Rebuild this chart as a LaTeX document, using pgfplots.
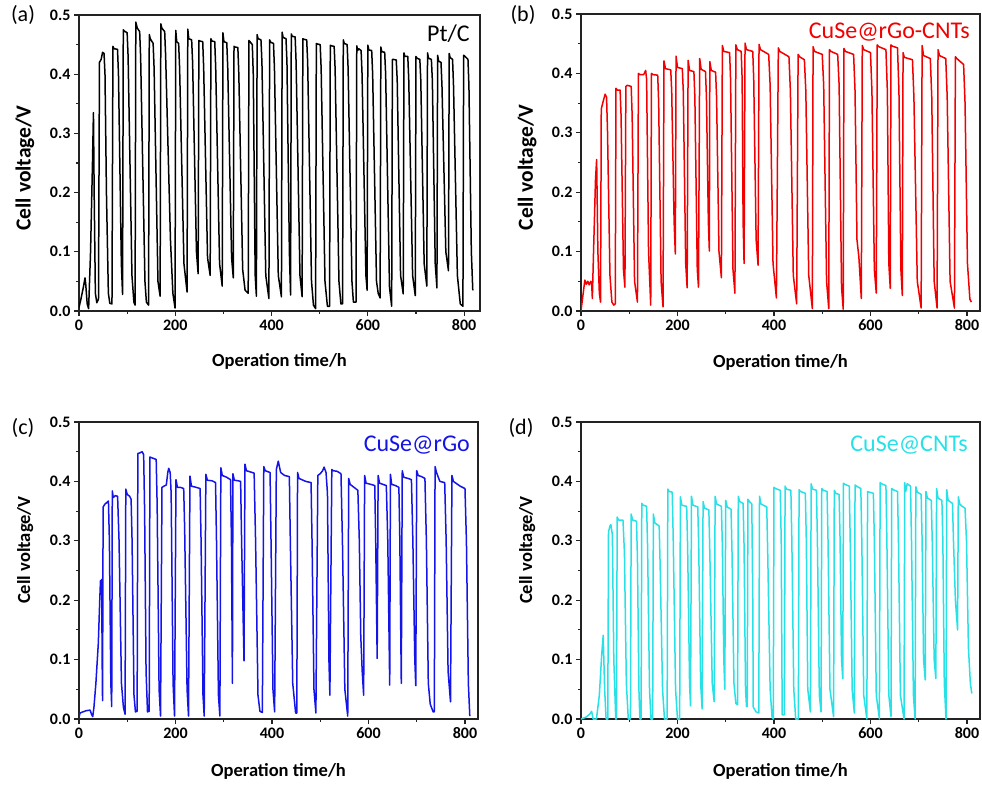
\documentclass[border=0pt]{standalone}
\usepackage{fontspec}
\setmainfont{Carlito}
\usepackage{pgfplots}
\pgfplotsset{compat=1.18}

\definecolor{cred}{RGB}{240,0,0}
\definecolor{cblue}{RGB}{20,20,230}
\definecolor{ccyan}{RGB}{40,225,230}
\definecolor{axgray}{RGB}{35,35,35}

\pgfplotsset{
  panel/.style={
    scale only axis, anchor=south west,
    xmin=0, xmax=827, ymin=0, ymax=0.5,
    xtick={0,200,400,600,800}, minor x tick num=1,
    ytick={0,0.1,0.2,0.3,0.4,0.5}, minor y tick num=1,
    tick pos=left, tick align=outside,
    major tick length=5pt, minor tick length=3pt,
    axis line style={line width=1.4pt, axgray},
    every tick/.style={line width=1.1pt, axgray},
    ticklabel style={font=\fontsize{16}{16}\selectfont\bfseries},
    /pgf/number format/assume math mode=true,
    y tick label style={/pgf/number format/fixed, /pgf/number format/fixed zerofill,
                        /pgf/number format/precision=1},
    xlabel={Operation time/h}, ylabel={Cell voltage/V},
    every axis y label/.style={rotate=90, anchor=center},
    every axis x label/.style={anchor=center, font=\fontsize{18.5}{18.5}\selectfont\bfseries},
  },
  toprow/.style={
    every axis y label/.append style={at={(axis description cs:-0.135,0.483)},
      font=\fontsize{21.5}{21.5}\selectfont\bfseries},
    every axis x label/.append style={at={(axis description cs:0.5,-0.172)}},
  },
  botrow/.style={
    every axis y label/.append style={at={(axis description cs:-0.135,0.569)},
      font=\fontsize{18.5}{18.5}\selectfont\bfseries},
    every axis x label/.append style={at={(axis description cs:0.5,-0.178)}},
  },
  curve/.style={line width=1.5pt, line join=round},
}
\tikzset{sample/.style={anchor=north east, inner sep=0pt, font=\fontsize{24}{24}\selectfont}}

\begin{document}
\begin{tikzpicture}
\path[use as bounding box] (0pt,0pt) rectangle (982pt,785pt);

% (a) Pt/C
\begin{axis}[panel, toprow, at={(79pt,474pt)}, width=401pt, height=296pt, xmax=833]
\addplot[curve, black] coordinates {
(0,0.006)(4,0.02)(9,0.04)(12.5,0.056)(14,0.045)(17,0.012)(20,0.004)(24,0.1)(28,0.25)(30,0.335)(31.5,0.2)(34,0.03)(37,0.014)(40.5,0.02)
(42.5,0.42)(46,0.425)(49,0.437)(52,0.435)(54,0.40)(57,0.2)(61,0.03)(64,0.013)(68.5,0.012)
(70.5,0.447)(73,0.443)(80,0.442)(82,0.40)(88,0.08)(90.5,0.028)
(92,0.475)(94,0.473)(100,0.47)(102,0.43)(110,0.06)(114,0.015)(116.5,0.010)
(118,0.488)(121,0.478)(126,0.472)(128,0.43)(137,0.05)(140,0.015)(144.5,0.010)
(146,0.467)(148,0.46)(154,0.452)(156,0.41)(164,0.05)(168.5,0.025)
(170,0.485)(172,0.478)(178,0.472)(180,0.43)(190,0.12)(195,0.03)(199.5,0.005)
(201,0.474)(203,0.455)(207,0.452)(209,0.41)(218,0.08)(224.5,0.032)
(226,0.476)(228,0.46)(234,0.458)(236,0.42)(244,0.1)(247.5,0.063)
(249,0.457)(251,0.456)(257,0.455)(259,0.41)(267,0.09)(272.5,0.06)
(274,0.46)(276,0.456)(282,0.455)(284,0.41)(292,0.08)(297.5,0.042)
(299,0.47)(301,0.455)(307,0.453)(309,0.41)(317,0.09)(320.5,0.056)
(322,0.447)(324,0.446)(330,0.445)(332,0.40)(340,0.07)(345,0.035)(351.5,0.03)
(353,0.457)(355,0.455)(360,0.45)(362,0.40)(366,0.06)(368.5,0.025)
(370,0.467)(372,0.46)(378,0.458)(380,0.42)(388,0.06)(394.5,0.021)
(396,0.458)(398,0.454)(404,0.452)(406,0.41)(414,0.06)(420.5,0.024)
(422,0.471)(424,0.462)(430,0.46)(432,0.42)(437,0.1)(439.5,0.027)
(441,0.468)(443,0.464)(449,0.463)(451,0.42)(459,0.06)(463.5,0.024)
(465,0.46)(467,0.459)(473,0.458)(475,0.42)(483,0.05)(487,0.01)(491.5,0.004)
(493,0.452)(495,0.451)(501,0.45)(503,0.41)(511,0.05)(516,0.008)(520.5,0.008)
(522,0.449)(524,0.448)(530,0.447)(532,0.41)(540,0.05)(544,0.012)(547.5,0.012)
(549,0.458)(551,0.452)(557,0.45)(559,0.41)(567,0.05)(570,0.015)(575.5,0.015)
(577,0.448)(579,0.44)(581,0.443)(586,0.44)(588,0.40)(596,0.06)(598.5,0.035)
(600,0.449)(602,0.441)(608,0.44)(610,0.40)(618,0.05)(621.5,0.03)(625.5,0.022)
(627,0.446)(629,0.438)(635,0.437)(637,0.40)(645,0.04)(649.5,0.008)
(651,0.425)(653,0.425)(659,0.424)(661,0.39)(668,0.06)(673.5,0.029)
(675,0.436)(677,0.43)(683,0.43)(685,0.39)(693,0.06)(698.5,0.026)
(700,0.43)(702,0.427)(708,0.425)(710,0.39)(717,0.08)(722.5,0.042)
(724,0.436)(726,0.427)(732,0.425)(734,0.39)(740,0.08)(743.5,0.039)
(745,0.432)(747,0.422)(752,0.42)(754,0.38)(762,0.1)(767.5,0.068)
(769,0.435)(771,0.428)(776,0.425)(778,0.38)(786,0.06)(792,0.012)(797.5,0.008)
(799,0.432)(802,0.43)(808,0.425)(810,0.38)(815,0.1)(818,0.035)
};
\node[sample, text=black] at (axis description cs:0.975,0.966) {Pt/C};
\end{axis}

% (b) CuSe@rGo-CNTs
\begin{axis}[panel, toprow, at={(581pt,474pt)}, width=399pt, height=297pt]
\addplot[curve, cred] coordinates {
(0,0.0)(3,0.02)(8,0.052)(11,0.045)(14,0.05)(17,0.044)(20,0.05)(22,0.048)(23.5,0.021)(26,0.1)(30,0.22)(32.4,0.255)(35,0.1)(38,0.03)(40.5,0.015)
(42,0.34)(45,0.35)(50,0.365)(53,0.36)(55,0.3)(60,0.06)(64,0.015)(68,0.01)(71,0.012)
(72.5,0.375)(75,0.372)(81,0.372)(83,0.33)(88,0.07)(91,0.04)
(93,0.378)(96,0.38)(104,0.378)(106,0.33)(111,0.05)(117,0.015)
(119,0.4)(122,0.398)(130,0.398)(134,0.405)(136,0.39)(140,0.1)(144.5,0.01)
(146,0.4)(149,0.398)(159,0.397)(161,0.35)(166,0.05)(170,0.007)
(172,0.421)(175,0.408)(186,0.406)(188,0.37)(193,0.15)(195.5,0.096)
(197,0.429)(200,0.41)(210,0.408)(212,0.37)(217,0.08)(220,0.039)
(222,0.422)(225,0.405)(234,0.403)(236,0.36)(241,0.07)(243.5,0.04)
(246,0.425)(249,0.407)(258,0.403)(260,0.36)(264,0.15)(266,0.101)
(267,0.42)(270,0.405)(279,0.402)(281,0.36)(286,0.1)(291,0.056)
(293,0.447)(296,0.437)(308,0.435)(310,0.39)(315,0.07)(319,0.03)
(321,0.448)(324,0.44)(332,0.437)(334,0.39)(336,0.15)(338,0.08)
(340,0.451)(343,0.44)(356,0.437)(358,0.39)(363,0.12)(367,0.077)
(369,0.449)(372,0.44)(389,0.432)(392,0.38)(398,0.08)(405,0.022)
(409,0.443)(412,0.437)(431,0.428)(434,0.37)(440,0.06)(447,0.012)
(450,0.432)(453,0.428)(463,0.423)(466,0.37)(472,0.06)(479.5,0.004)
(481,0.445)(484,0.437)(500,0.432)(503,0.38)(509,0.05)(513.5,0.004)
(515,0.44)(518,0.437)(532,0.432)(535,0.38)(540,0.04)(543.5,0.003)
(545,0.442)(548,0.437)(565,0.432)(568,0.37)(572,0.12)(576,0.09)(581,0.021)
(583,0.447)(586,0.44)(600,0.435)(603,0.37)(608,0.07)(612,0.03)
(614,0.448)(617,0.445)(632,0.44)(635,0.37)(638,0.08)(641,0.038)
(642.5,0.448)(645,0.446)(656,0.443)(659,0.37)(663,0.07)(666,0.026)
(667.5,0.435)(670,0.427)(687,0.423)(690,0.36)(697,0.05)(705,0.005)
(707,0.447)(710,0.43)(724,0.425)(727,0.36)(732,0.05)(738,0.005)
(740,0.44)(743,0.43)(756,0.425)(759,0.36)(765,0.05)(774,0.005)
(776,0.428)(779,0.425)(793,0.415)(796,0.35)(801,0.08)(806,0.02)(809,0.015)
};
\node[sample, text=cred] at (axis description cs:0.975,0.97) {CuSe@rGo-CNTs};
\end{axis}

% (c) CuSe@rGo
\begin{axis}[panel, botrow, at={(79pt,66pt)}, width=399pt, height=297pt]
\addplot[curve, cblue] coordinates {
(0,0.002)(2,0.01)(8,0.012)(15,0.014)(23,0.015)(26,0.008)(28.5,0.004)(31,0.02)(35,0.06)(40,0.127)(43,0.2)(44.5,0.233)(45.5,0.21)(47,0.235)(48,0.1)(48.8,0.031)
(50,0.357)(54,0.362)(57,0.364)(61,0.367)(63,0.3)(66,0.06)(67.8,0.021)
(69,0.384)(71,0.373)(75,0.376)(80,0.375)(83,0.3)(88,0.06)(92,0.02)(95.5,0.008)
(97,0.387)(100,0.378)(105,0.375)(108,0.37)(110,0.3)(114,0.04)(117,0.012)(120.5,0.013)
(122,0.447)(126,0.448)(131,0.45)(134,0.445)(136,0.35)(139,0.08)(142,0.012)(145.5,0.013)
(147,0.441)(150,0.44)(160,0.437)(162,0.36)(166,0.05)(169,0.005)
(172,0.39)(176,0.392)(181,0.394)(184,0.415)(186,0.422)(189,0.415)(191,0.38)(195,0.06)(198,0.005)
(201,0.403)(204,0.39)(210,0.39)(217,0.388)(219,0.32)(224,0.05)(227,0.005)
(230,0.409)(233,0.392)(243,0.39)(251,0.388)(253,0.3)(257,0.04)(259.5,0.005)
(263,0.412)(266,0.402)(276,0.401)(283,0.398)(285,0.3)(289,0.04)(292,0.005)
(294,0.423)(297,0.41)(306,0.407)(314,0.403)(316,0.3)(318,0.06)
(319,0.413)(322,0.402)(330,0.401)(335,0.4)(337,0.3)(342,0.098)
(344,0.429)(347,0.418)(355,0.416)(363,0.414)(366,0.3)(371,0.04)(375,0.013)(380,0.011)
(383,0.425)(386,0.418)(396,0.415)(398,0.3)(402,0.05)(405.5,0.012)
(409,0.42)(413,0.434)(418,0.415)(426,0.41)(436,0.408)(438,0.3)(443,0.06)(449,0.01)(451.5,0.01)
(453,0.415)(456,0.405)(470,0.4)(481,0.398)(483,0.3)(487,0.05)(491,0.01)
(495,0.41)(500,0.413)(505,0.418)(508,0.424)(512,0.415)(515,0.38)(518,0.1)(520,0.04)
(524,0.42)(527,0.418)(535,0.417)(543,0.413)(546,0.3)(551,0.05)(557,0.005)
(559,0.405)(562,0.395)(570,0.39)(578,0.385)(581,0.3)(584,0.14)(587,0.08)(590,0.04)
(592,0.41)(595,0.397)(605,0.395)(613,0.393)(615,0.3)(618,0.102)
(620,0.41)(623,0.397)(630,0.395)(637,0.393)(640,0.3)(644,0.057)
(645.5,0.412)(648,0.395)(656,0.393)(663,0.39)(665,0.3)(668,0.06)
(670,0.418)(673,0.407)(682,0.405)(689,0.403)(692,0.3)(696,0.1)(698,0.056)
(700,0.418)(703,0.41)(710,0.408)(717,0.405)(720,0.3)(724,0.06)(728,0.025)(734,0.012)(736.5,0.012)
(738,0.425)(741,0.415)(748,0.4)(758,0.398)(761,0.3)(765,0.08)(770,0.029)
(773,0.41)(776,0.4)(790,0.392)(800,0.388)(803,0.3)(807,0.06)(810,0.005)
};
\node[sample, text=cblue] at (axis description cs:0.98,0.953) {CuSe@rGo};
\end{axis}

% (d) CuSe@CNTs
\begin{axis}[panel, botrow, at={(581pt,66pt)}, width=399pt, height=297pt]
\addplot[curve, ccyan] coordinates {
(0,0)(10,0.003)(18,0.008)(22,0.013)(25,0)(32,0)(38,0.04)(43,0.11)(46,0.141)(49,0.05)(52,0)(55.5,0)
(57,0.315)(60,0.325)(62,0.327)(65,0.31)(68,0.1)(72,0)(73.5,0)
(75,0.34)(78,0.335)(87,0.335)(90,0.28)(94,0.06)(98,0)(102.5,0)
(104,0.345)(107,0.335)(115,0.333)(117,0.27)(120,0.05)(122,0)(124.5,0)
(126,0.363)(129,0.36)(136,0.358)(138,0.29)(142,0.05)(145,0)(148.5,0)
(150,0.345)(153,0.33)(162,0.325)(164,0.26)(169,0.05)(173,0)(178.5,0)
(180,0.387)(183,0.383)(189,0.382)(191,0.31)(196,0.05)(200,0)(204.5,0)
(206,0.374)(209,0.36)(219,0.358)(221,0.29)(225,0.06)(227,0.022)
(229,0.375)(232,0.36)(242,0.357)(244,0.29)(248,0.06)(251,0.017)
(253,0.366)(256,0.355)(265,0.352)(267,0.28)(272,0.06)(276,0.029)
(278,0.375)(281,0.362)(291,0.358)(293,0.29)(296,0.1)(298,0.05)
(300,0.368)(303,0.357)(311,0.353)(313,0.28)(317,0.06)(321,0.026)(324.5,0.024)
(326,0.375)(329,0.366)(336,0.363)(338,0.29)(341,0.05)(343,0.021)(344.5,0.021)
(346,0.37)(349,0.366)(354,0.362)(356,0.2)(357,0.02)(363,0.012)(368.5,0.01)
(370,0.375)(373,0.362)(385,0.357)(387,0.28)(392,0.05)(396,0.003)(398.5,0)
(400,0.39)(403,0.388)(413,0.385)(415,0.3)(417,0.007)(421.5,0.007)
(423,0.392)(426,0.387)(435,0.385)(437,0.3)(441,0.05)(445,0)(450.5,0)
(452,0.386)(455,0.383)(465,0.38)(467,0.3)(470,0.05)(475.5,0.012)
(477,0.396)(480,0.387)(488,0.385)(490,0.3)(494,0.04)(497.5,0.012)
(499,0.388)(502,0.385)(510,0.383)(512,0.3)(516,0.05)(523.5,0.004)
(525,0.385)(528,0.38)(535,0.378)(537,0.3)(540,0.1)(542.5,0.068)
(544,0.397)(547,0.395)(556,0.392)(558,0.3)(562,0.05)(566.5,0.01)
(568,0.394)(571,0.392)(580,0.388)(582,0.3)(586,0.04)(592.5,0)
(594,0.383)(597,0.382)(606,0.38)(608,0.3)(612,0.04)(618.5,0)
(620,0.398)(623,0.396)(632,0.393)(634,0.3)(638,0.04)(642.5,0.004)
(644,0.388)(647,0.386)(656,0.383)(658,0.3)(662,0.04)(669.5,0)
(671,0.398)(673,0.383)(676,0.396)(683,0.392)(685,0.3)(689,0.04)(692.5,0)
(694,0.391)(697,0.382)(705,0.378)(707,0.3)(710,0.1)(713.5,0.066)
(715,0.383)(718,0.372)(726,0.368)(728,0.3)(732,0.1)(735.5,0.068)
(737,0.388)(740,0.372)(748,0.368)(750,0.3)(753,0.06)(756.5,0)
(758,0.386)(761,0.368)(770,0.363)(772,0.3)(776,0.2)(780.5,0.15)
(782,0.374)(785,0.362)(790,0.358)(796,0.355)(799,0.3)(803,0.12)(807,0.06)(810,0.043)
};
\node[sample, text=ccyan] at (axis description cs:0.97,0.953) {CuSe@CNTs};
\end{axis}

\node[font=\fontsize{22}{22}\selectfont] at (23pt,770pt) {(a)};
\node[font=\fontsize{22}{22}\selectfont] at (523pt,770pt) {(b)};
\node[font=\fontsize{22}{22}\selectfont] at (23pt,357pt) {(c)};
\node[font=\fontsize{22}{22}\selectfont] at (521pt,357pt) {(d)};
\end{tikzpicture}
\end{document}
